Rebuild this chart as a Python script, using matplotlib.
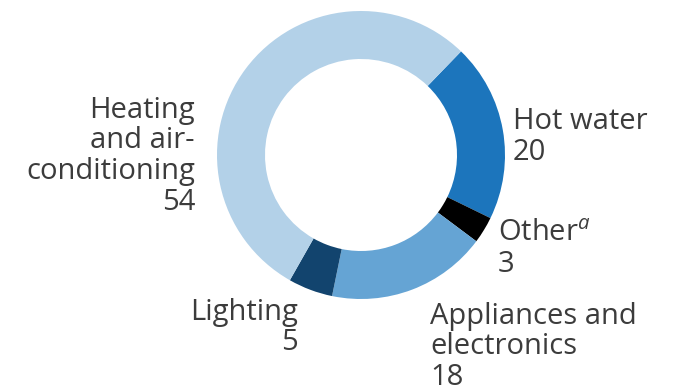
import matplotlib
matplotlib.use("Agg")
import matplotlib.pyplot as plt

plt.rcParams['font.family'] = ['Open Sans', 'DejaVu Sans']
plt.rcParams['mathtext.fontset'] = 'custom'
plt.rcParams['mathtext.rm'] = 'Open Sans'
plt.rcParams['mathtext.it'] = 'Open Sans:italic'

# residential energy end uses, percent
categories = ['Hot water', 'Other', 'Appliances and\nelectronics', 'Lighting',
              'Heating\nand air-\nconditioning']
shares = [20, 3, 18, 5, 54]
colors = ['#1c75bc', '#000000', '#65a4d4', '#12446e', '#b3d1e8']
footnotes = ['', 'a', '', '', '']

W, H = 674, 390
LINE = 30.5  # px between label baselines

fig = plt.figure(figsize=(W / 100, H / 100), dpi=100)
ax = fig.add_axes([0, 0, 1, 1])

cx, cy, R = 361, H - 155, 144
ax.pie(shares, colors=colors, startangle=46, counterclock=False,
       center=(cx, cy), radius=R, frame=True,
       wedgeprops=dict(width=R / 3, linewidth=0))
ax.set_xlim(0, W)
ax.set_ylim(0, H)
ax.axis('off')

# label anchors: x, first baseline (px from top), alignment
anchors = [(513, 129, 'left'), (498, 241, 'left'), (430, 324, 'left'),
           (298, 320, 'right'), (195, 118, 'right')]

for name, val, note, (x, ybase, ha) in zip(categories, shares, footnotes, anchors):
    lines = name.split('\n')
    if note:
        lines[-1] = lines[-1] + '$^{' + note + '}$'
    lines.append(str(val))
    for i, line in enumerate(lines):
        ax.text(x, H - (ybase + i * LINE), line, ha=ha, va='baseline',
                fontsize=21, color='#3c3c3c')

fig.savefig('out.png', dpi=100)
